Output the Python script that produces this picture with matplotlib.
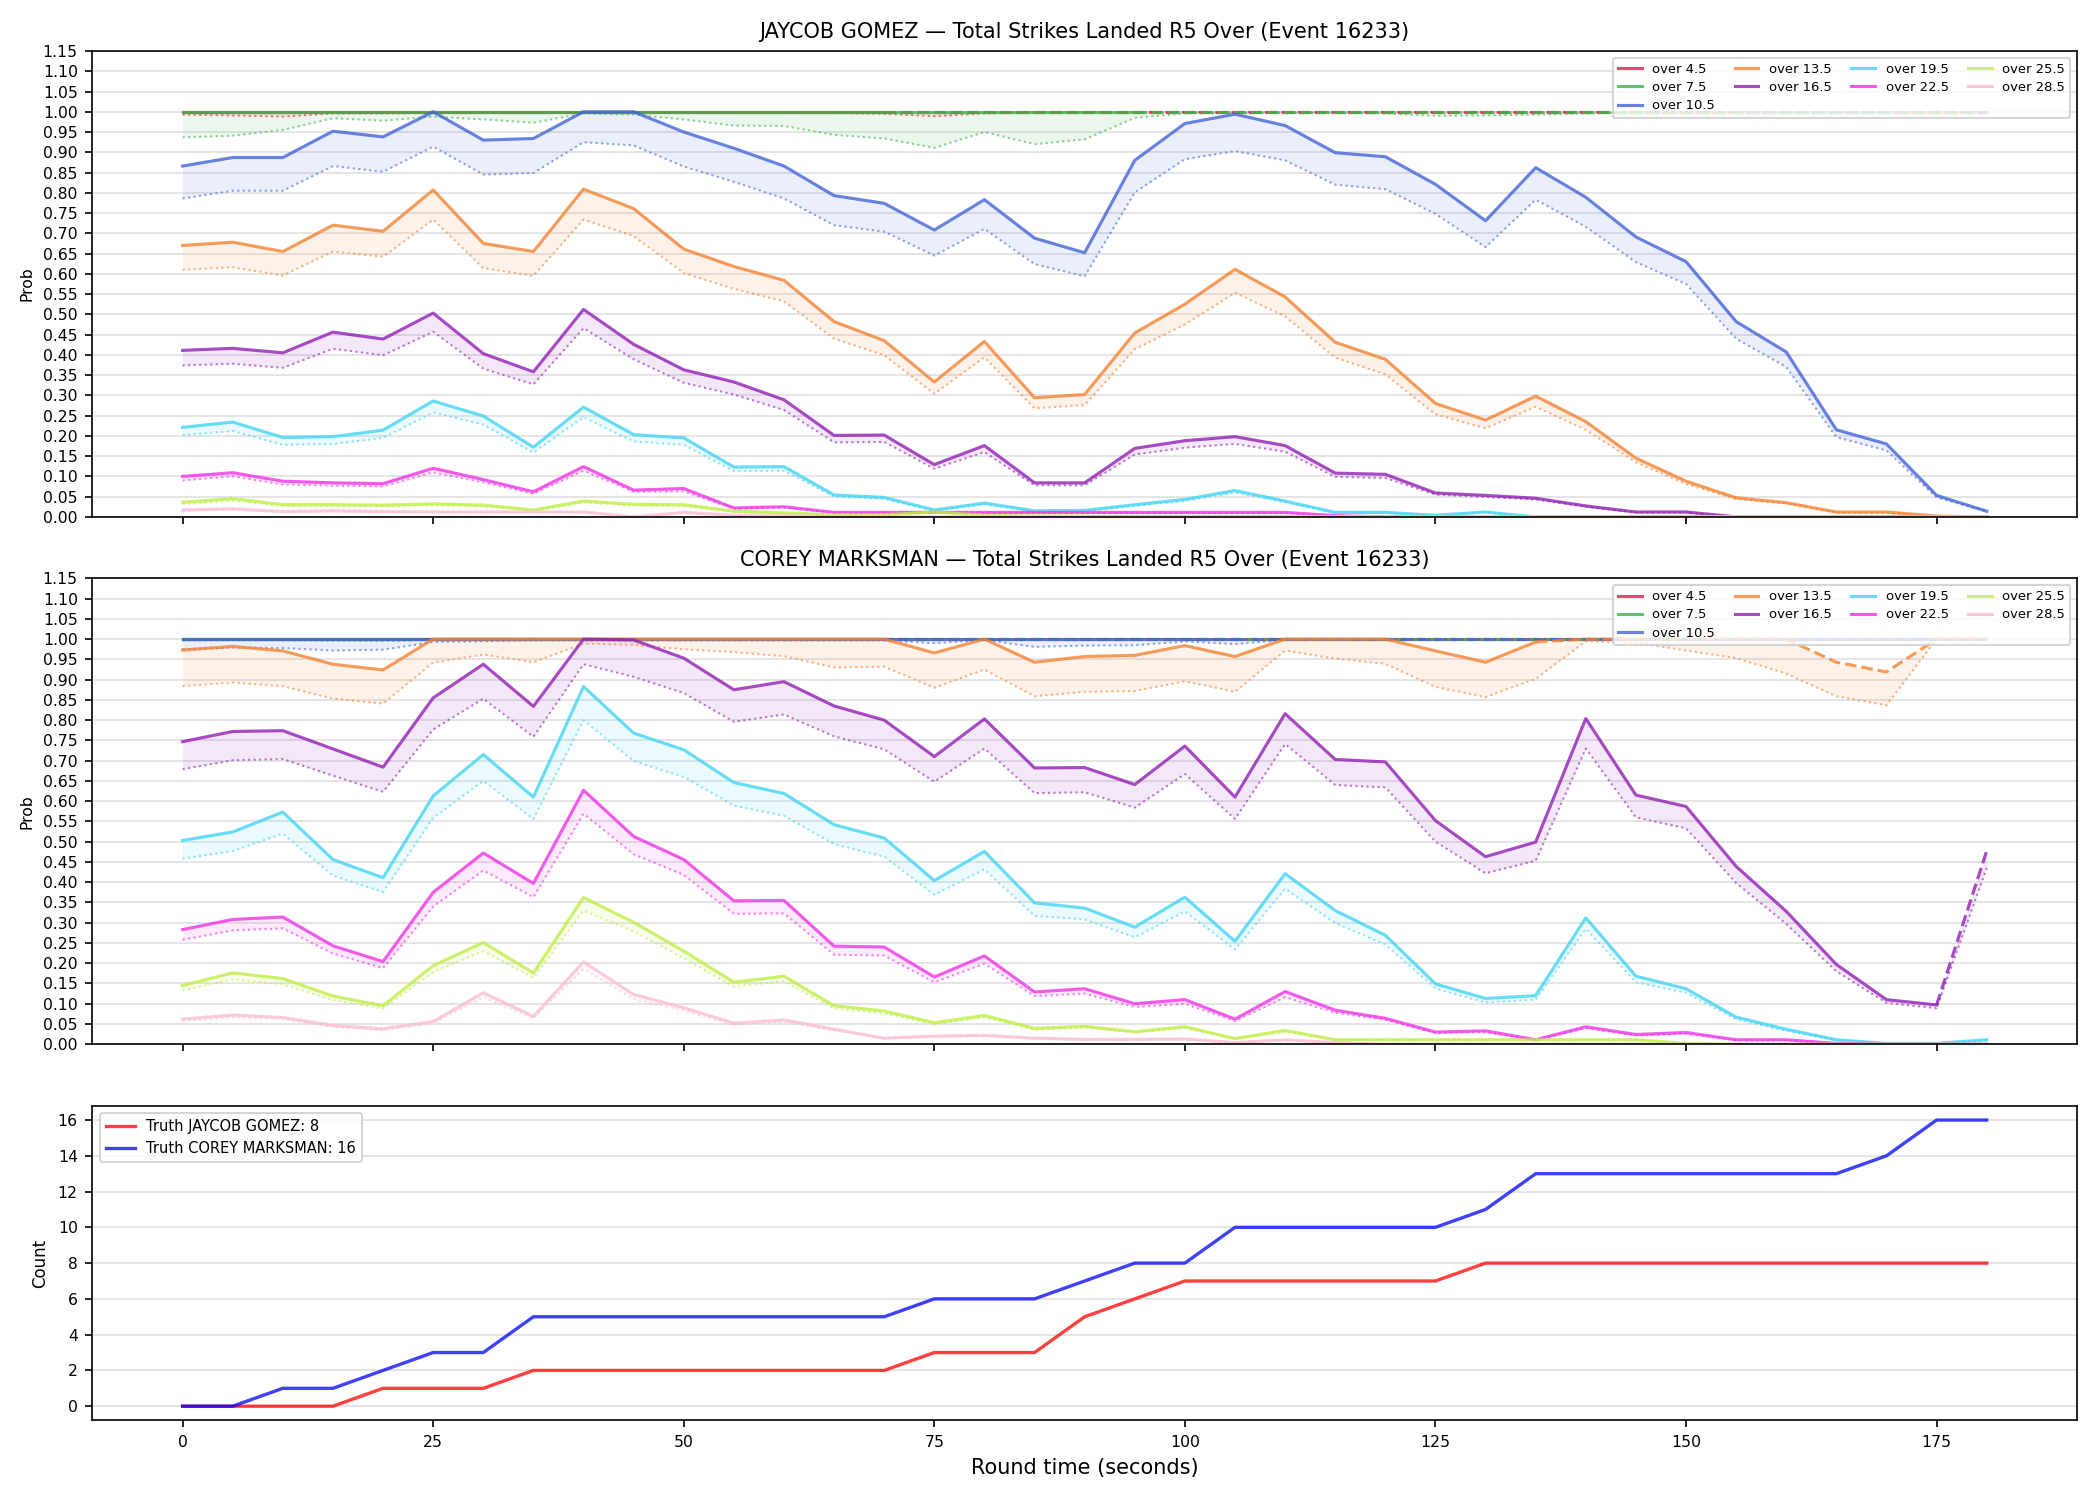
import matplotlib
matplotlib.use('Agg')
import matplotlib.pyplot as plt
import numpy as np

# sample times (seconds into round 5)
t = np.array(list(range(0, 185, 5)))

lines = ['4.5', '7.5', '10.5', '13.5', '16.5', '19.5', '22.5', '25.5', '28.5']
colors = ['#e6194b', '#3cb44b', '#4363d8', '#f58231', '#911eb4',
          '#42d4f4', '#f032e6', '#bfef45', '#fabed4']

# ---- JAYCOB GOMEZ ----
jg_p45 = [1.0] * 37
jg_l45 = [0.993, 0.991, 0.988, 0.996, 0.996, 0.997, 0.997, 0.997, 0.998, 0.998, 0.998,
          0.998, 0.998, 0.997, 0.995, 0.989, 0.996, 0.998, 0.999, 0.999, 0.999, 0.999, 0.999, 0.999, 0.999,
          0.999, 0.999, 0.999, 0.999, 0.999, 0.999, 0.999, 0.999, 0.999, 0.999, 0.999, 0.999]
jg_p75 = [1.0] * 37
jg_l75 = [0.937, 0.941, 0.955, 0.984, 0.978, 0.988, 0.981, 0.973, 0.996, 0.993, 0.981,
          0.966, 0.965, 0.943, 0.934, 0.911, 0.950, 0.920, 0.932, 0.985, 0.996, 0.997, 0.997, 0.997, 0.996,
          0.990, 0.991, 0.993, 0.996, 0.998, 0.998, 0.998, 0.998, 0.998, 0.998, 0.998, 0.998]
jg_p105 = [0.866, 0.887, 0.887, 0.952, 0.938, 1.0, 0.930, 0.934, 1.0, 1.0, 0.950,
           0.910, 0.866, 0.793, 0.774, 0.708, 0.783, 0.688, 0.652, 0.880, 0.971, 0.994, 0.966, 0.899, 0.889,
           0.821, 0.731, 0.862, 0.789, 0.691, 0.630, 0.482, 0.407, 0.215, 0.180, 0.053, 0.014]
jg_l105 = [0.786, 0.805, 0.805, 0.866, 0.852, 0.914, 0.845, 0.849, 0.925, 0.917, 0.865,
           0.827, 0.786, 0.720, 0.704, 0.645, 0.711, 0.624, 0.594, 0.801, 0.883, 0.903, 0.880, 0.820, 0.809,
           0.748, 0.666, 0.783, 0.716, 0.629, 0.575, 0.440, 0.370, 0.197, 0.164, 0.048, 0.014]
jg_p135 = [0.670, 0.678, 0.655, 0.720, 0.705, 0.807, 0.675, 0.655, 0.809, 0.761, 0.661,
           0.618, 0.584, 0.482, 0.435, 0.333, 0.433, 0.294, 0.302, 0.454, 0.525, 0.611, 0.543, 0.431, 0.389,
           0.280, 0.239, 0.298, 0.235, 0.145, 0.088, 0.047, 0.035, 0.012, 0.012, 0.002, 0.0]
jg_l135 = [0.610, 0.616, 0.596, 0.655, 0.642, 0.734, 0.614, 0.595, 0.734, 0.693, 0.602,
           0.563, 0.532, 0.440, 0.399, 0.304, 0.394, 0.268, 0.276, 0.414, 0.475, 0.553, 0.495, 0.393, 0.352,
           0.253, 0.219, 0.272, 0.215, 0.135, 0.081, 0.044, 0.033, 0.010, 0.010, 0.001, 0.0]
jg_p165 = [0.411, 0.416, 0.405, 0.456, 0.439, 0.503, 0.403, 0.358, 0.512, 0.426, 0.363,
           0.333, 0.289, 0.201, 0.202, 0.129, 0.176, 0.084, 0.084, 0.169, 0.188, 0.198, 0.176, 0.108, 0.105,
           0.059, 0.053, 0.046, 0.027, 0.012, 0.012, 0.0, 0.0, 0.0, 0.0, 0.0, 0.0]
jg_l165 = [0.374, 0.378, 0.368, 0.415, 0.399, 0.457, 0.366, 0.327, 0.466, 0.389, 0.331,
           0.302, 0.264, 0.184, 0.185, 0.119, 0.160, 0.078, 0.078, 0.154, 0.171, 0.180, 0.161, 0.099, 0.096,
           0.055, 0.049, 0.043, 0.025, 0.011, 0.011, 0.0, 0.0, 0.0, 0.0, 0.0, 0.0]
jg_p195 = [0.221, 0.234, 0.196, 0.198, 0.214, 0.286, 0.249, 0.172, 0.271, 0.203, 0.195,
           0.123, 0.124, 0.054, 0.048, 0.017, 0.034, 0.015, 0.016, 0.030, 0.043, 0.065, 0.039, 0.011, 0.011,
           0.004, 0.012, 0.0, 0.0, 0.0, 0.0, 0.0, 0.0, 0.0, 0.0, 0.0, 0.0]
jg_l195 = [0.202, 0.212, 0.178, 0.180, 0.195, 0.258, 0.228, 0.159, 0.246, 0.186, 0.178,
           0.113, 0.114, 0.050, 0.044, 0.015, 0.031, 0.013, 0.014, 0.027, 0.039, 0.060, 0.036, 0.010, 0.010,
           0.004, 0.011, 0.0, 0.0, 0.0, 0.0, 0.0, 0.0, 0.0, 0.0, 0.0, 0.0]
jg_p225 = [0.100, 0.109, 0.088, 0.084, 0.082, 0.120, 0.092, 0.062, 0.124, 0.066, 0.070,
           0.022, 0.025, 0.011, 0.011, 0.011, 0.011, 0.011, 0.011, 0.011, 0.011, 0.011, 0.011, 0.003, 0.0,
           0.0, 0.0, 0.0, 0.0, 0.0, 0.0, 0.0, 0.0, 0.0, 0.0, 0.0, 0.0]
jg_l225 = [0.090, 0.100, 0.080, 0.077, 0.075, 0.110, 0.085, 0.057, 0.114, 0.062, 0.063,
           0.020, 0.023, 0.010, 0.010, 0.010, 0.010, 0.010, 0.010, 0.010, 0.010, 0.010, 0.010, 0.003, 0.0,
           0.0, 0.0, 0.0, 0.0, 0.0, 0.0, 0.0, 0.0, 0.0, 0.0, 0.0, 0.0]
jg_p255 = [0.036, 0.045, 0.030, 0.030, 0.029, 0.032, 0.029, 0.017, 0.039, 0.031, 0.030,
           0.014, 0.010, 0.005, 0.005, 0.012, 0.004, 0.002, 0.002, 0.0, 0.0, 0.0, 0.0, 0.0, 0.0,
           0.0, 0.0, 0.0, 0.0, 0.0, 0.0, 0.0, 0.0, 0.0, 0.0, 0.0, 0.0]
jg_l255 = [0.032, 0.040, 0.027, 0.027, 0.026, 0.029, 0.026, 0.015, 0.035, 0.028, 0.027,
           0.012, 0.009, 0.004, 0.004, 0.011, 0.003, 0.002, 0.002, 0.0, 0.0, 0.0, 0.0, 0.0, 0.0,
           0.0, 0.0, 0.0, 0.0, 0.0, 0.0, 0.0, 0.0, 0.0, 0.0, 0.0, 0.0]
jg_p285 = [0.017, 0.020, 0.013, 0.015, 0.013, 0.012, 0.012, 0.012, 0.012, 0.0, 0.011,
           0.004, 0.003, 0.0, 0.0, 0.0, 0.0, 0.0, 0.0, 0.0, 0.0, 0.0, 0.0, 0.0, 0.0,
           0.0, 0.0, 0.0, 0.0, 0.0, 0.0, 0.0, 0.0, 0.0, 0.0, 0.0, 0.0]
jg_l285 = [0.015, 0.018, 0.012, 0.013, 0.012, 0.011, 0.011, 0.011, 0.011, 0.0, 0.010,
           0.004, 0.003, 0.0, 0.0, 0.0, 0.0, 0.0, 0.0, 0.0, 0.0, 0.0, 0.0, 0.0, 0.0,
           0.0, 0.0, 0.0, 0.0, 0.0, 0.0, 0.0, 0.0, 0.0, 0.0, 0.0, 0.0]
jg_dash = {'4.5': 70, '7.5': 95}   # time from which the line is drawn dashed

# ---- COREY MARKSMAN ----
cm_p45 = [1.0] * 37
cm_l45 = [0.998] * 37
cm_p75 = [1.0] * 37
cm_l75 = [0.997, 0.997, 0.997, 0.996, 0.995, 0.998, 0.999, 0.999, 0.999, 0.999, 0.999,
          0.999, 0.999, 0.999, 0.999, 0.999, 0.999, 0.999, 0.999, 0.999, 0.999, 0.999, 0.999, 0.999, 0.999,
          0.999, 0.999, 0.999, 0.999, 0.999, 0.999, 0.999, 0.999, 0.999, 0.999, 0.999, 0.999]
cm_p105 = [1.0] * 37
cm_l105 = [0.975, 0.979, 0.978, 0.972, 0.974, 0.993, 0.995, 0.997, 0.997, 0.997, 0.997,
           0.997, 0.997, 0.997, 0.997, 0.990, 0.998, 0.981, 0.984, 0.985, 0.994, 0.988, 0.998, 0.998, 0.998,
           0.998, 0.998, 0.998, 0.998, 0.998, 0.998, 0.998, 0.998, 0.998, 0.998, 0.998, 0.998]
cm_p135 = [0.973, 0.982, 0.971, 0.938, 0.924, 1.0, 1.0, 1.0, 1.0, 1.0, 1.0,
           1.0, 1.0, 1.0, 1.0, 0.966, 1.0, 0.943, 0.957, 0.960, 0.984, 0.957, 1.0, 1.0, 1.0,
           0.971, 0.943, 0.993, 1.0, 1.0, 1.0, 1.0, 1.0, 0.943, 0.919, 1.0, 1.0]
cm_l135 = [0.884, 0.893, 0.884, 0.853, 0.841, 0.942, 0.962, 0.943, 0.989, 0.986, 0.975,
           0.968, 0.958, 0.930, 0.932, 0.880, 0.925, 0.859, 0.870, 0.872, 0.896, 0.870, 0.972, 0.952, 0.939,
           0.882, 0.857, 0.902, 0.995, 0.991, 0.972, 0.953, 0.915, 0.859, 0.837, 1.0, 1.0]
cm_p165 = [0.747, 0.772, 0.774, 0.729, 0.684, 0.855, 0.938, 0.834, 1.0, 0.998, 0.953,
           0.875, 0.895, 0.835, 0.800, 0.710, 0.803, 0.682, 0.683, 0.641, 0.736, 0.610, 0.816, 0.703, 0.697,
           0.552, 0.463, 0.499, 0.804, 0.615, 0.587, 0.439, 0.328, 0.197, 0.110, 0.097, 0.477]
cm_l165 = [0.679, 0.701, 0.704, 0.663, 0.623, 0.777, 0.853, 0.759, 0.938, 0.907, 0.867,
           0.796, 0.814, 0.760, 0.728, 0.648, 0.730, 0.620, 0.622, 0.584, 0.667, 0.556, 0.741, 0.640, 0.634,
           0.500, 0.422, 0.453, 0.730, 0.560, 0.533, 0.398, 0.297, 0.180, 0.102, 0.089, 0.435]
cm_p195 = [0.503, 0.524, 0.573, 0.456, 0.411, 0.613, 0.715, 0.610, 0.883, 0.768, 0.727,
           0.646, 0.619, 0.542, 0.509, 0.404, 0.476, 0.349, 0.336, 0.289, 0.363, 0.254, 0.421, 0.330, 0.269,
           0.149, 0.113, 0.120, 0.312, 0.168, 0.137, 0.067, 0.037, 0.011, 0.002, 0.002, 0.011]
cm_l195 = [0.458, 0.477, 0.520, 0.416, 0.376, 0.559, 0.650, 0.556, 0.800, 0.699, 0.660,
           0.589, 0.564, 0.494, 0.463, 0.369, 0.432, 0.317, 0.308, 0.264, 0.328, 0.234, 0.384, 0.299, 0.246,
           0.138, 0.103, 0.110, 0.285, 0.153, 0.127, 0.062, 0.033, 0.010, 0.002, 0.002, 0.010]
cm_p225 = [0.283, 0.308, 0.314, 0.243, 0.204, 0.375, 0.472, 0.397, 0.627, 0.513, 0.456,
           0.354, 0.355, 0.242, 0.240, 0.166, 0.218, 0.129, 0.137, 0.100, 0.110, 0.062, 0.130, 0.084, 0.064,
           0.030, 0.033, 0.011, 0.043, 0.024, 0.029, 0.011, 0.011, 0.002, 0.0, 0.0, 0.0]
cm_l225 = [0.258, 0.281, 0.286, 0.224, 0.188, 0.340, 0.429, 0.363, 0.569, 0.469, 0.418,
           0.322, 0.323, 0.221, 0.219, 0.153, 0.199, 0.119, 0.125, 0.092, 0.100, 0.057, 0.116, 0.078, 0.060,
           0.028, 0.030, 0.010, 0.039, 0.022, 0.026, 0.010, 0.010, 0.002, 0.0, 0.0, 0.0]
cm_p255 = [0.145, 0.176, 0.162, 0.119, 0.095, 0.194, 0.251, 0.176, 0.362, 0.301, 0.230,
           0.153, 0.168, 0.095, 0.082, 0.053, 0.071, 0.039, 0.044, 0.031, 0.043, 0.014, 0.034, 0.011, 0.011,
           0.011, 0.011, 0.011, 0.011, 0.011, 0.002, 0.0, 0.0, 0.0, 0.0, 0.0, 0.0]
cm_l255 = [0.133, 0.160, 0.148, 0.109, 0.088, 0.178, 0.230, 0.164, 0.330, 0.279, 0.212,
           0.142, 0.156, 0.088, 0.076, 0.049, 0.066, 0.036, 0.041, 0.029, 0.040, 0.013, 0.031, 0.010, 0.010,
           0.010, 0.010, 0.010, 0.010, 0.010, 0.002, 0.0, 0.0, 0.0, 0.0, 0.0, 0.0]
cm_p285 = [0.062, 0.072, 0.066, 0.046, 0.038, 0.056, 0.127, 0.069, 0.203, 0.123, 0.090,
           0.052, 0.060, 0.037, 0.015, 0.020, 0.022, 0.015, 0.012, 0.012, 0.013, 0.004, 0.011, 0.004, 0.0,
           0.0, 0.0, 0.0, 0.0, 0.0, 0.0, 0.0, 0.0, 0.0, 0.0, 0.0, 0.0]
cm_l285 = [0.057, 0.066, 0.062, 0.043, 0.035, 0.052, 0.116, 0.064, 0.186, 0.112, 0.083,
           0.048, 0.055, 0.034, 0.014, 0.018, 0.020, 0.014, 0.011, 0.011, 0.012, 0.004, 0.010, 0.004, 0.0,
           0.0, 0.0, 0.0, 0.0, 0.0, 0.0, 0.0, 0.0, 0.0, 0.0, 0.0, 0.0]
cm_dash = {'4.5': 35, '7.5': 55, '10.5': 105, '13.5': 135, '16.5': 175}

# running truth counts
jg_truth = [0, 0, 0, 0, 1, 1, 1, 2, 2, 2, 2, 2, 2, 2, 2, 3, 3, 3, 5, 6, 7, 7, 7, 7, 7, 7,
            8, 8, 8, 8, 8, 8, 8, 8, 8, 8, 8]
cm_truth = [0, 0, 1, 1, 2, 3, 3, 5, 5, 5, 5, 5, 5, 5, 5, 6, 6, 6, 7, 8, 8, 10, 10, 10, 10, 10,
            11, 13, 13, 13, 13, 13, 13, 13, 14, 16, 16]

jg_probs = [jg_p45, jg_p75, jg_p105, jg_p135, jg_p165, jg_p195, jg_p225, jg_p255, jg_p285]
jg_lows = [jg_l45, jg_l75, jg_l105, jg_l135, jg_l165, jg_l195, jg_l225, jg_l255, jg_l285]
cm_probs = [cm_p45, cm_p75, cm_p105, cm_p135, cm_p165, cm_p195, cm_p225, cm_p255, cm_p285]
cm_lows = [cm_l45, cm_l75, cm_l105, cm_l135, cm_l165, cm_l195, cm_l225, cm_l255, cm_l285]


def draw_probs(ax, probs, lows, dash, title):
    for name, col, p, lo in zip(lines, colors, probs, lows):
        p = np.array(p)
        lo = np.array(lo)
        k = len(t) - 1
        if name in dash:
            k = int(np.where(t == dash[name])[0][0])
        ax.fill_between(t, lo, p, color=col, alpha=0.1, lw=0)
        ax.plot(t, lo, color=col, lw=1.0, ls=':', alpha=0.6)
        ax.plot(t[:k + 1], p[:k + 1], color=col, lw=1.5, alpha=0.8, label='over ' + name)
        if k < len(t) - 1:
            ax.plot(t[k:], p[k:], color=col, lw=1.5, alpha=0.8, ls='--')
    ax.set_ylim(0, 1.15)
    ax.set_yticks(np.arange(0, 1.151, 0.05))
    ax.yaxis.set_major_formatter(matplotlib.ticker.FormatStrFormatter('%.2f'))
    ax.set_ylabel('Prob', fontsize=7.5)
    ax.set_title(title, fontsize=10)
    ax.grid(axis='y', color='#e0e0e0', lw=0.8)
    ax.set_axisbelow(True)
    ax.legend(loc='upper right', ncol=4, fontsize=6.3, columnspacing=1.5,
              handlelength=1.8, labelspacing=0.4)


fig, (ax1, ax2, ax3) = plt.subplots(3, 1, figsize=(14, 10), dpi=150, sharex=True,
                                    gridspec_kw=dict(height_ratios=[1.48, 1.48, 1]))
fig.subplots_adjust(left=0.044, right=0.989, top=0.966, bottom=0.053, hspace=0.148)

draw_probs(ax1, jg_probs, jg_lows, jg_dash,
           'JAYCOB GOMEZ \u2014 Total Strikes Landed R5 Over (Event 16233)')
draw_probs(ax2, cm_probs, cm_lows, cm_dash,
           'COREY MARKSMAN \u2014 Total Strikes Landed R5 Over (Event 16233)')

ax3.plot(t, jg_truth, color='red', alpha=0.75, lw=1.6, label='Truth JAYCOB GOMEZ: 8')
ax3.plot(t, cm_truth, color='blue', alpha=0.75, lw=1.6, label='Truth COREY MARKSMAN: 16')
ax3.set_ylabel('Count', fontsize=8)
ax3.set_xlabel('Round time (seconds)', fontsize=10)
ax3.grid(axis='y', color='#e0e0e0', lw=0.8)
ax3.set_axisbelow(True)
ax3.legend(loc='upper left', fontsize=7)
ax3.set_xticks([0, 25, 50, 75, 100, 125, 150, 175])

for ax in (ax1, ax2, ax3):
    ax.tick_params(labelsize=7.5)

plt.savefig('out.png', dpi=150)
